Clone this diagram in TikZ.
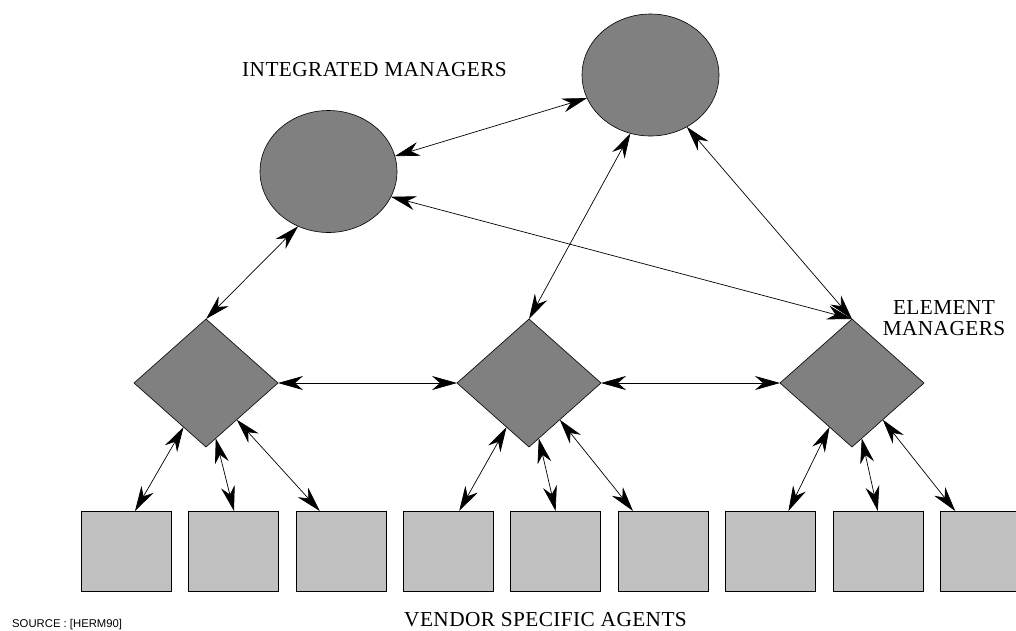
\documentclass[tikz,border=0pt]{standalone}
\usepackage{fontspec}
\setmainfont{Liberation Serif}[LetterSpace=2]
\newfontfamily\srcfont{Liberation Sans}
\usetikzlibrary{shapes.geometric,arrows.meta,calc}
\definecolor{darkfill}{RGB}{128,128,128}
\definecolor{lightfill}{RGB}{192,192,192}
\tikzset{
  mgr/.style={ellipse,draw=black,line width=0.6pt,fill=darkfill,minimum width=137pt,minimum height=122pt,inner sep=0pt,outer sep=0pt},
  elem/.style={diamond,draw=black,line width=0.6pt,fill=darkfill,minimum width=144pt,minimum height=128pt,inner sep=0pt,outer sep=0pt},
  agent/.style={rectangle,draw=black,line width=0.6pt,fill=lightfill,minimum width=90pt,minimum height=80pt,inner sep=0pt,outer sep=0pt},
  link/.style={draw=black,line width=0.7pt,{Stealth[length=25pt,width=14pt,inset=8pt]}-{Stealth[length=25pt,width=14pt,inset=8pt]}},
  lbl/.style={font=\fontsize{21.3}{21.3}\selectfont,inner sep=0pt},
}
\begin{document}
\begin{tikzpicture}[x=1pt,y=-1pt]
\useasboundingbox (0,0) rectangle (1016,630);
\clip (0,0) rectangle (1016,630);
% managers
\node[mgr] (e1) at (328.5,171.5) {};
\node[mgr] (e2) at (650.5,75) {};
% element managers
\node[elem] (d1) at (206,383) {};
\node[elem] (d2) at (529,383) {};
\node[elem] (d3) at (852,383) {};
% agents
\foreach \i in {1,...,9}{
  \node[agent] (s\i) at ({126+107.4*(\i-1)},551) {};
}
% labels
\node[lbl,anchor=base west] (tim) at (242,76) {INTEGRATED MANAGERS};
\node[lbl,anchor=base] (tem1) at (944,314) {ELEMENT};
\node[lbl,anchor=base] (tem2) at (944,335) {MANAGERS};
\node[lbl,anchor=base west] (tva) at (404,626) {VENDOR SPECIFIC AGENTS};
\node[font=\srcfont\fontsize{11.3}{11.3}\selectfont,inner sep=0pt,anchor=base west] (src) at (12,627) {SOURCE : [HERM90]};
% manager links
\draw[link] (e1.13.9) -- (e2.200.2);
\draw[link] (e1.338.1) -- (d3.north);
\draw[link] (e2.251.1) -- (d2.north);
\draw[link] (e2.305.3) -- (d3.north);
\draw[link] (e1.241.2) -- (d1.north);
% element links
\draw[link] (d1.east) -- (d2.west);
\draw[link] (d2.east) -- (d3.west);
% agent links
\draw[link] (d1.243.9) -- ($(s1.north)+(9,0)$);
\draw[link] (d1.280.3) -- ($(s2.north)+(0.6,0)$);
\draw[link] (d1.310) -- ($(s3.north)+(-21,0)$);
\draw[link] (d2.243.9) -- ($(s4.north)+(11,0)$);
\draw[link] (d2.280.3) -- ($(s5.north)+(0,0)$);
\draw[link] (d2.310) -- ($(s6.north)+(-30,0)$);
\draw[link] (d3.243.9) -- ($(s7.north)+(18,0)$);
\draw[link] (d3.280.3) -- ($(s8.north)+(0,0)$);
\draw[link] (d3.310) -- ($(s9.north)+(-30,0)$);
\end{tikzpicture}
\end{document}
